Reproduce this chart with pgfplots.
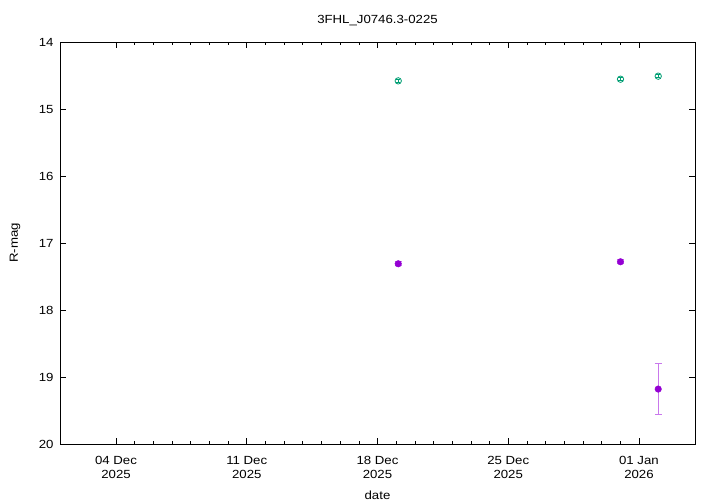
\documentclass[border=0pt]{standalone}
\usepackage{pgfplots}
\pgfplotsset{compat=1.18}
\usepackage{fontspec}
\setmainfont{Liberation Sans}[FakeStretch=1.12]
\definecolor{gpgreen}{HTML}{009E73}
\definecolor{gppurple}{HTML}{9400D3}
\definecolor{gplpurple}{HTML}{C978EC}
\newcommand{\gpf}{\fontsize{11.8bp}{13.8bp}\selectfont}
\begin{document}
\begin{tikzpicture}
\path[use as bounding box] (0,0) rectangle (720bp,504bp);
\begin{axis}[
  at={(60bp,60bp)}, anchor=south west,
  scale only axis, width=635bp, height=402bp,
  xmin=1, xmax=35,
  ymin=14, ymax=20, y dir=reverse,
  xtick={4,11,18,25,32},
  xticklabels={{04 Dec\\2025},{11 Dec\\2025},{18 Dec\\2025},{25 Dec\\2025},{01 Jan\\2026}},
  xticklabel style={align=center, font=\gpf, yshift=-9bp},
  yticklabel style={font=\gpf, xshift=-3bp},
  ytick={14,15,16,17,18,19,20},
  minor x tick num=6,
  tick align=inside,
  major tick length=6bp, minor tick length=3bp,
  tick style={black, line width=0.6pt},
  axis line style={line width=1pt},
  /pgf/number format/assume math mode=true,
  title={3FHL\_J0746.3-0225},
  title style={font=\gpf, at={(axis description cs:0.5,1.038)}, anchor=center},
  xlabel={date}, ylabel={R-mag},
  label style={font=\gpf},
  ylabel style={at={(axis description cs:-0.0709,0.5)}, anchor=center},
  xlabel style={at={(axis description cs:0.5,-0.127)}, anchor=center},
]
\addplot[only marks, mark=o, mark size=3.2bp, gpgreen, line width=0.8pt,
  error bars/.cd, y dir=both, y explicit,
  error bar style={gpgreen, line width=0.8pt},
  error mark options={rotate=90, mark size=2.2bp, gpgreen, line width=0.8pt}]
  coordinates {
  (19.11,14.58) +- (0,0.02)
  (31.01,14.555) +- (0,0.02)
  (33.03,14.51) +- (0,0.02)
};
\addplot[only marks, mark=*, mark size=3.3bp, gppurple,
  error bars/.cd, y dir=both, y explicit,
  error bar style={gplpurple, line width=1pt},
  error mark options={rotate=90, mark size=3.7bp, gplpurple, line width=1pt}]
  coordinates {
  (19.11,17.31) +- (0,0.03)
  (31.01,17.28) +- (0,0.03)
  (33.03,19.18) +- (0,0.38)
};
\end{axis}
\end{tikzpicture}
\end{document}
